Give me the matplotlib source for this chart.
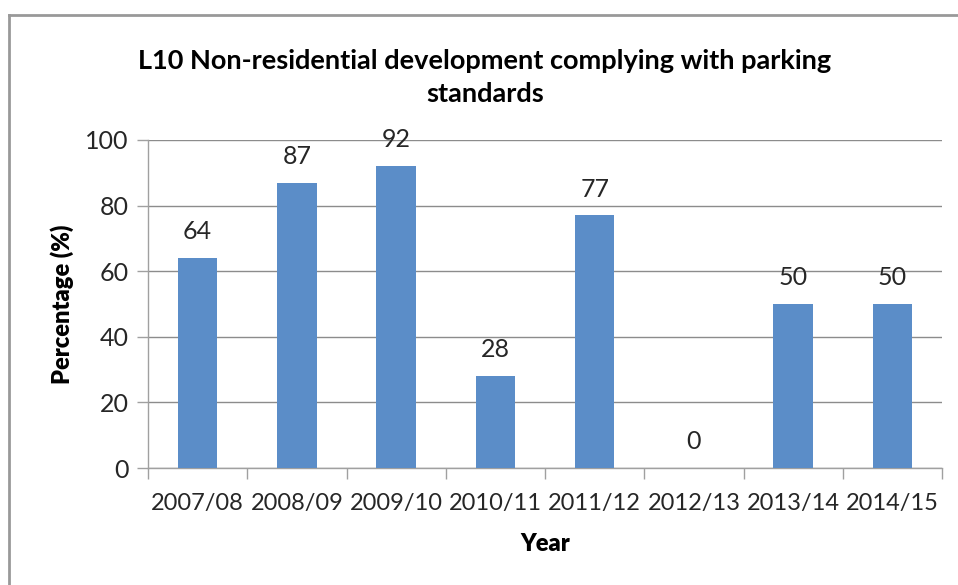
import matplotlib.pyplot as plt
from matplotlib.lines import Line2D

years = ['2007/08', '2008/09', '2009/10', '2010/11', '2011/12', '2012/13', '2013/14', '2014/15']
percent = [64, 87, 92, 28, 77, 0, 50, 50]

plt.rcParams['font.family'] = ['Lato', 'DejaVu Sans']

fig = plt.figure(figsize=(9.58, 5.85), dpi=100)
ax = fig.add_axes([0.1545, 0.2, 0.8288, 0.5607])

x = list(range(len(years)))
ax.bar(x, percent, width=0.4, color='#5B8DC8', zorder=3)
for xi, v in zip(x, percent):
    ax.text(xi, v + 4.5, str(v), ha='center', va='bottom', fontsize=18, color='#262626')

ax.set_xlim(-0.5, len(years) - 0.5)
ax.set_ylim(0, 100)
ax.set_yticks(range(0, 101, 20))
ax.set_xticks(x)
ax.set_xticklabels(years)
ax.set_xticks([i - 0.5 for i in range(len(years) + 1)], minor=True)
ax.tick_params(axis='x', which='major', length=0, pad=18, labelsize=17, labelcolor='#262626')
ax.tick_params(axis='x', which='minor', length=8, color='#A0A0A0', width=1)
ax.tick_params(axis='y', length=8, color='#A0A0A0', width=1, labelsize=18, labelcolor='#262626', pad=6)

ax.grid(axis='y', color='#8C8C8C', linewidth=1, zorder=0)
for side in ['top', 'right']:
    ax.spines[side].set_visible(False)
for side in ['left', 'bottom']:
    ax.spines[side].set_color('#A0A0A0')
    ax.spines[side].set_linewidth(1)

ax.set_ylabel('Percentage (%)', fontsize=17, fontweight='heavy', labelpad=8)
ax.set_xlabel('Year', fontsize=17, fontweight='heavy', labelpad=14)
fig.text(0.506, 0.868, 'L10 Non-residential development complying with parking\nstandards',
         ha='center', va='center', fontsize=19.5, fontweight='bold', linespacing=1.45)

# outer chart frame (top and left edges)
fig.add_artist(Line2D([9 / 958, 1], [1 - 15 / 585, 1 - 15 / 585], transform=fig.transFigure,
                      color='#999999', linewidth=2))
fig.add_artist(Line2D([9 / 958, 9 / 958], [0, 1 - 15 / 585], transform=fig.transFigure,
                      color='#999999', linewidth=2))

fig.savefig('out.png', dpi=100)
